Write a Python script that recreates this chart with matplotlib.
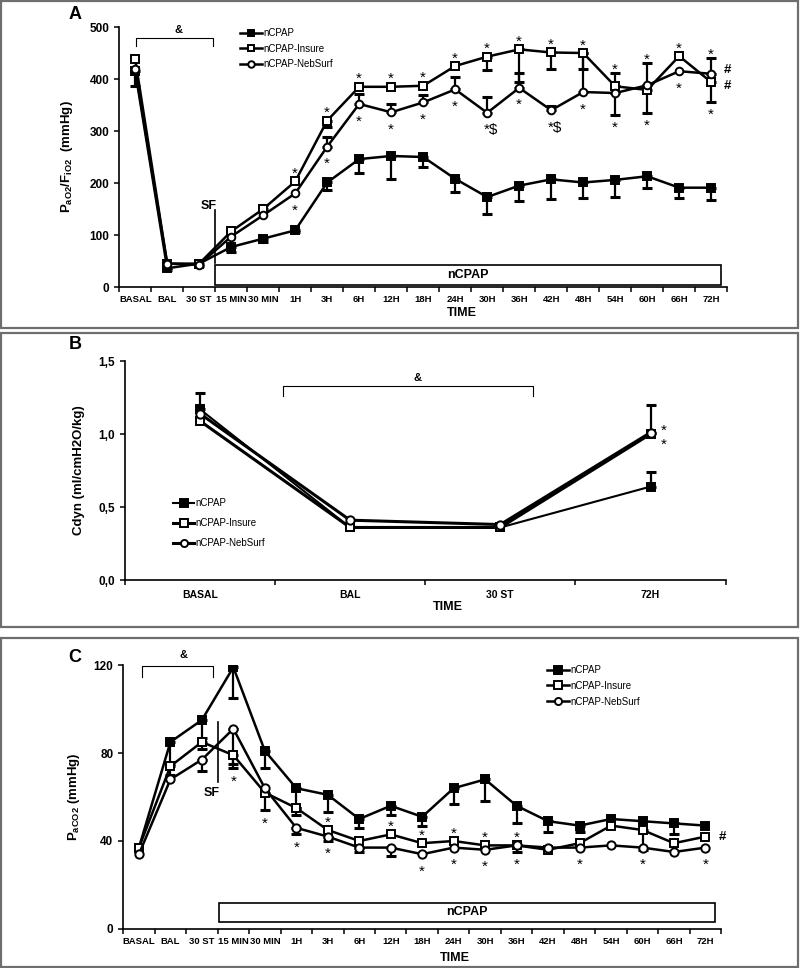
import numpy as np
import matplotlib
matplotlib.use("Agg")
import matplotlib.pyplot as plt
from matplotlib.patches import Rectangle

plt.rcParams['font.family'] = ['Liberation Sans', 'DejaVu Sans']
plt.rcParams['mathtext.fontset'] = 'custom'
plt.rcParams['mathtext.rm'] = 'Liberation Sans:bold'
plt.rcParams['mathtext.bf'] = 'Liberation Sans:bold'

###
# DATA
###
times = ['BASAL', 'BAL', '30 ST', '15 MIN', '30 MIN', '1H', '3H', '6H', '12H', '18H',
         '24H', '30H', '36H', '42H', '48H', '54H', '60H', '66H', '72H']
times_b = ['BASAL', 'BAL', '30 ST', '72H']
groups = ['nCPAP', 'nCPAP-Insure', 'nCPAP-NebSurf']

# A: PaO2/FiO2 (mmHg)
pf_ncpap = [415, 36, 45, 77, 93, 109, 201, 246, 252, 250, 208, 173, 195, 207, 201, 206, 213, 191, 191]
pf_ncpap_lo = [28, 4, 4, 10, 6, 4, 15, 26, 45, 19, 26, 32, 29, 37, 29, 32, 22, 19, 24]
pf_ncpap_hi = [0] * 19
pf_insure = [438, 45, 45, 107, 150, 203, 320, 385, 385, 387, 425, 443, 457, 451, 450, 386, 379, 444, 394]
pf_insure_lo = [0, 0, 0, 0, 0, 0, 12, 0, 0, 0, 0, 25, 62, 32, 30, 0, 44, 0, 38]
pf_insure_hi = [0, 0, 0, 0, 8, 0, 0, 0, 0, 0, 0, 0, 0, 0, 0, 25, 0, 0, 0]
pf_neb = [420, 45, 43, 97, 138, 180, 270, 352, 336, 355, 380, 335, 383, 340, 375, 373, 388, 415, 410]
pf_neb_lo = [0, 0, 0, 0, 0, 0, 0, 0, 0, 0, 0, 0, 0, 0, 0, 42, 0, 0, 0]
pf_neb_hi = [0, 0, 0, 0, 0, 0, 18, 20, 15, 15, 23, 30, 28, 8, 75, 0, 42, 0, 30]

# B: Cdyn (ml/cmH2O/kg)
cd_ncpap = [1.17, 0.36, 0.36, 0.64]
cd_ncpap_hi = [0.11, 0, 0, 0.10]
cd_insure = [1.09, 0.36, 0.36, 1.00]
cd_insure_hi = [0, 0, 0, 0]
cd_neb = [1.14, 0.41, 0.38, 1.01]
cd_neb_hi = [0, 0, 0, 0.19]

# C: PaCO2 (mmHg)
pc_ncpap = [37, 85, 95, 119, 81, 64, 61, 50, 56, 51, 64, 68, 56, 49, 47, 50, 49, 48, 47]
pc_ncpap_lo = [0, 10, 8, 14, 8, 9, 8, 4, 4, 4, 7, 10, 8, 5, 3, 0, 0, 5, 0]
pc_insure = [37, 74, 85, 79, 62, 55, 45, 40, 43, 39, 40, 38, 38, 36, 39, 47, 45, 39, 42]
pc_insure_lo = [0, 4, 3, 6, 8, 3, 0, 0, 0, 0, 0, 0, 0, 0, 0, 0, 9, 0, 0]
pc_neb = [34, 68, 77, 91, 64, 46, 42, 37, 37, 34, 37, 36, 38, 37, 37, 38, 37, 35, 37]
pc_neb_lo = [0, 0, 5, 16, 0, 3, 2, 2, 4, 0, 0, 0, 3, 0, 0, 0, 0, 0, 0]

# significance marks: (time index, group, side, text)
marks_a = ([(i, 'nCPAP-Insure', 'up', '*') for i in range(5, 15)] +
           [(15, 'nCPAP-Insure', 'up', '*'), (16, 'nCPAP-NebSurf', 'up', '*'),
            (17, 'nCPAP-Insure', 'up', '*'), (18, 'nCPAP-NebSurf', 'up', '*')] +
           [(i, 'nCPAP-NebSurf', 'down', '*') for i in (5, 6, 7, 8, 9, 10, 12, 14, 15, 17)] +
           [(11, 'nCPAP-NebSurf', 'down', '*$'), (13, 'nCPAP-NebSurf', 'down', '*$'),
            (16, 'nCPAP-Insure', 'down', '*'), (18, 'nCPAP-Insure', 'down', '*'),
            (18, 'nCPAP-NebSurf', 'rightup', '#'), (18, 'nCPAP-Insure', 'rightdown', '#')])
marks_b = [(3, 'nCPAP-NebSurf', 'rightup', '*'), (3, 'nCPAP-Insure', 'rightdown', '*')]
marks_c = [(3, 'nCPAP-Insure', 'down', '*'), (4, 'nCPAP-Insure', 'down', '*'),
           (5, 'nCPAP-NebSurf', 'down', '*'), (6, 'nCPAP-Insure', 'up', '*'),
           (6, 'nCPAP-NebSurf', 'down', '*'), (8, 'nCPAP-Insure', 'up', '*'),
           (9, 'nCPAP-Insure', 'up', '*'), (9, 'nCPAP-NebSurf', 'down', '*'),
           (10, 'nCPAP-Insure', 'up', '*'), (10, 'nCPAP-NebSurf', 'down', '*'),
           (11, 'nCPAP-Insure', 'up', '*'), (11, 'nCPAP-NebSurf', 'down', '*'),
           (12, 'nCPAP-Insure', 'up', '*'), (12, 'nCPAP-NebSurf', 'down', '*'),
           (14, 'nCPAP-NebSurf', 'down', '*'), (16, 'nCPAP-NebSurf', 'down', '*'),
           (18, 'nCPAP-NebSurf', 'down', '*'), (18, 'nCPAP-Insure', 'right', '#')]

STYLE = {'nCPAP': dict(marker='s', mfc='black', z=4),
         'nCPAP-Insure': dict(marker='s', mfc='white', z=5),
         'nCPAP-NebSurf': dict(marker='o', mfc='white', z=6)}


###
# FUNCTIONS
###
def draw_group(ax, key, vals, lo, hi, lw=1.8, ms=5.5):
    x = np.arange(len(vals))
    vals = np.asarray(vals, float)
    lo = np.asarray(lo, float)
    hi = np.asarray(hi, float)
    # error bars go one way only, drawn under the markers
    for err, down in ((lo, True), (hi, False)):
        m = err > 0
        if m.any():
            yerr = [err[m], 0 * err[m]] if down else [0 * err[m], err[m]]
            ax.errorbar(x[m], vals[m], yerr=yerr, fmt='none', ecolor='black',
                        elinewidth=1.6, capsize=3.8, capthick=2.2, zorder=2)
    st = STYLE[key]
    ax.plot(x, vals, color='black', lw=lw, marker=st['marker'], mfc=st['mfc'], mec='black',
            mew=1.4, ms=ms, zorder=st['z'], label=key)


def put_marks(ax, marks, data, hash_dx=12, hash_dy=2.5):
    for i, key, side, txt in marks:
        vals, lo, hi = data[key]
        if side == 'up':
            base = vals[i] + hi[i]
            dy = 6 if hi[i] > 0 else 9
            ax.annotate(txt, (i, base), xytext=(0, dy - 3.5), textcoords='offset points',
                        ha='center', va='center', fontsize=11)
        elif side == 'down':
            base = vals[i] - lo[i]
            dy = 6 if lo[i] > 0 else 9
            ax.annotate(txt, (i, base), xytext=(3 if '$' in txt else 0, -dy - 3.5),
                        textcoords='offset points', ha='center', va='center', fontsize=11)
        elif txt == '#':
            dy = {'right': 0, 'rightup': hash_dy, 'rightdown': -hash_dy}[side]
            ax.annotate(txt, (i, vals[i]), xytext=(hash_dx, dy), textcoords='offset points',
                        ha='center', va='center', fontsize=9.5, fontweight='bold')
        else:
            dy = 5 if side == 'rightup' else -4.5
            ax.annotate(txt, (i, vals[i]), xytext=(9.5, dy - 3.5), textcoords='offset points',
                        ha='center', va='center', fontsize=11)


def setup_axes(ax, cats, ylim, yticks, ylabels, xfs=6.8):
    n = len(cats)
    ax.set_xlim(-0.5, n - 0.5)
    ax.set_ylim(*ylim)
    ax.set_xticks(np.arange(n + 1) - 0.5)
    ax.set_xticklabels([])
    ax.set_xticks(np.arange(n), minor=True)
    ax.set_xticklabels(cats, minor=True, fontsize=xfs, fontweight='bold')
    ax.tick_params(axis='x', which='minor', length=0, pad=6)
    ax.tick_params(axis='x', which='major', length=3.5, width=1.1, direction='out')
    ax.set_yticks(yticks)
    ax.set_yticklabels(ylabels, fontsize=8.5, fontweight='bold')
    ax.tick_params(axis='y', length=3.5, width=1.1, direction='out')
    for s in ('top', 'right'):
        ax.spines[s].set_visible(False)
    for s in ('left', 'bottom'):
        ax.spines[s].set_linewidth(1.2)
    ax.set_xlabel('TIME', fontsize=9, fontweight='bold')


def bracket(ax, x0, x1, y, ytick, label_x, label_y):
    ax.plot([x0, x0, x1, x1], [ytick, y, y, ytick], color='black', lw=0.8, clip_on=False)
    ax.text(label_x, label_y, '&', ha='center', va='center', fontsize=8, fontweight='bold')


def box(ax, x0, x1, y0, y1, label):
    ax.add_patch(Rectangle((x0, y0), x1 - x0, y1 - y0, fill=False, lw=1.2, ec='black', zorder=1))
    ax.text((x0 + x1) / 2, (y0 + y1) / 2, label, ha='center', va='center', fontsize=9, fontweight='bold')


def legend(ax, anchor, spacing):
    ax.legend(loc='upper left', bbox_to_anchor=anchor, frameon=False, fontsize=7,
              handlelength=2.2, handletextpad=0.15, labelspacing=spacing, borderpad=0,
              borderaxespad=0, markerscale=0.85)


###
# MAIN PROGRAM
###
fig = plt.figure(figsize=(8, 9.68), dpi=100)

# panel frames
for y0, y1 in ((0.661, 0.999), (0.352, 0.656), (0.001, 0.341)):
    fig.add_artist(Rectangle((0.001, y0), 0.997, y1 - y0, transform=fig.transFigure,
                             fill=False, ec='#6e6e6e', lw=1.6))

# ---- A ----
axA = fig.add_axes([0.149, 0.7035, 0.760, 0.2686])
data_a = {'nCPAP': (pf_ncpap, pf_ncpap_lo, pf_ncpap_hi),
          'nCPAP-Insure': (pf_insure, pf_insure_lo, pf_insure_hi),
          'nCPAP-NebSurf': (pf_neb, pf_neb_lo, pf_neb_hi)}
for g in groups:
    draw_group(axA, g, *data_a[g])
setup_axes(axA, times, (0, 500), range(0, 501, 100), [str(v) for v in range(0, 501, 100)])
axA.set_ylabel(r'P$_{\mathrm{aO2}}$/F$_{\mathrm{iO2}}$  (mmHg)', fontsize=9.5, fontweight='bold')
axA.yaxis.set_label_coords(-0.072, 0.5)
axA.xaxis.set_label_coords(0.564, -0.075)
put_marks(axA, marks_a, data_a)
bracket(axA, 0.03, 2.44, 479, 463, 1.34, 494)
box(axA, 2.5, 18.3, 4, 42, 'nCPAP')
axA.plot([2.5, 2.5], [46, 148], color='black', lw=1.2, zorder=3)
axA.text(2.3, 156, 'SF', ha='center', va='center', fontsize=9, fontweight='bold')
legend(axA, (0.199, 0.995), 0.55)
fig.text(0.094, 0.9855, 'A', ha='center', va='center', fontsize=13, fontweight='bold')

# ---- B ----
axB = fig.add_axes([0.156, 0.4008, 0.751, 0.2262])
zero4 = [0, 0, 0, 0]
data_b = {'nCPAP': (cd_ncpap, zero4, cd_ncpap_hi),
          'nCPAP-Insure': (cd_insure, zero4, cd_insure_hi),
          'nCPAP-NebSurf': (cd_neb, zero4, cd_neb_hi)}
for g, lw in zip(groups, (1.5, 2.2, 2.2)):
    draw_group(axB, g, *data_b[g], lw=lw, ms=6)
setup_axes(axB, times_b, (0, 1.5), [0, 0.5, 1.0, 1.5], ['0,0', '0,5', '1,0', '1,5'], xfs=7.5)
axB.tick_params(axis='x', which='minor', pad=7)
axB.set_ylabel('Cdyn (ml/cmH2O/kg)', fontsize=9.5, fontweight='bold')
axB.yaxis.set_label_coords(-0.067, 0.5)
axB.xaxis.set_label_coords(0.537, -0.097)
put_marks(axB, marks_b, data_b)
bracket(axB, 0.55, 2.22, 1.33, 1.26, 1.45, 1.385)
legend(axB, (0.08, 0.375), 1.05)
fig.text(0.094, 0.644, 'B', ha='center', va='center', fontsize=13, fontweight='bold')

# ---- C ----
axC = fig.add_axes([0.154, 0.0403, 0.7475, 0.2727])
zero19 = [0] * 19
data_c = {'nCPAP': (pc_ncpap, pc_ncpap_lo, zero19),
          'nCPAP-Insure': (pc_insure, pc_insure_lo, zero19),
          'nCPAP-NebSurf': (pc_neb, pc_neb_lo, zero19)}
for g in groups:
    draw_group(axC, g, *data_c[g], ms=6)
setup_axes(axC, times, (0, 120), [0, 40, 80, 120], ['0', '40', '80', '120'])
axC.set_ylabel(r'P$_{\mathrm{aCO2}}$ (mmHg)', fontsize=9.5, fontweight='bold')
axC.yaxis.set_label_coords(-0.069, 0.5)
axC.xaxis.set_label_coords(0.555, -0.088)
put_marks(axC, marks_c, data_c)
bracket(axC, 0.1, 2.36, 119.5, 114.5, 1.4, 124.5)
box(axC, 2.55, 18.3, 3, 12, 'nCPAP')
axC.plot([2.5, 2.5], [67, 94], color='black', lw=1.2, zorder=3)
axC.text(2.3, 62, 'SF', ha='center', va='center', fontsize=9, fontweight='bold')
legend(axC, (0.709, 1.0), 0.6)
fig.text(0.094, 0.321, 'C', ha='center', va='center', fontsize=13, fontweight='bold')

fig.savefig('out.png', dpi=100)
